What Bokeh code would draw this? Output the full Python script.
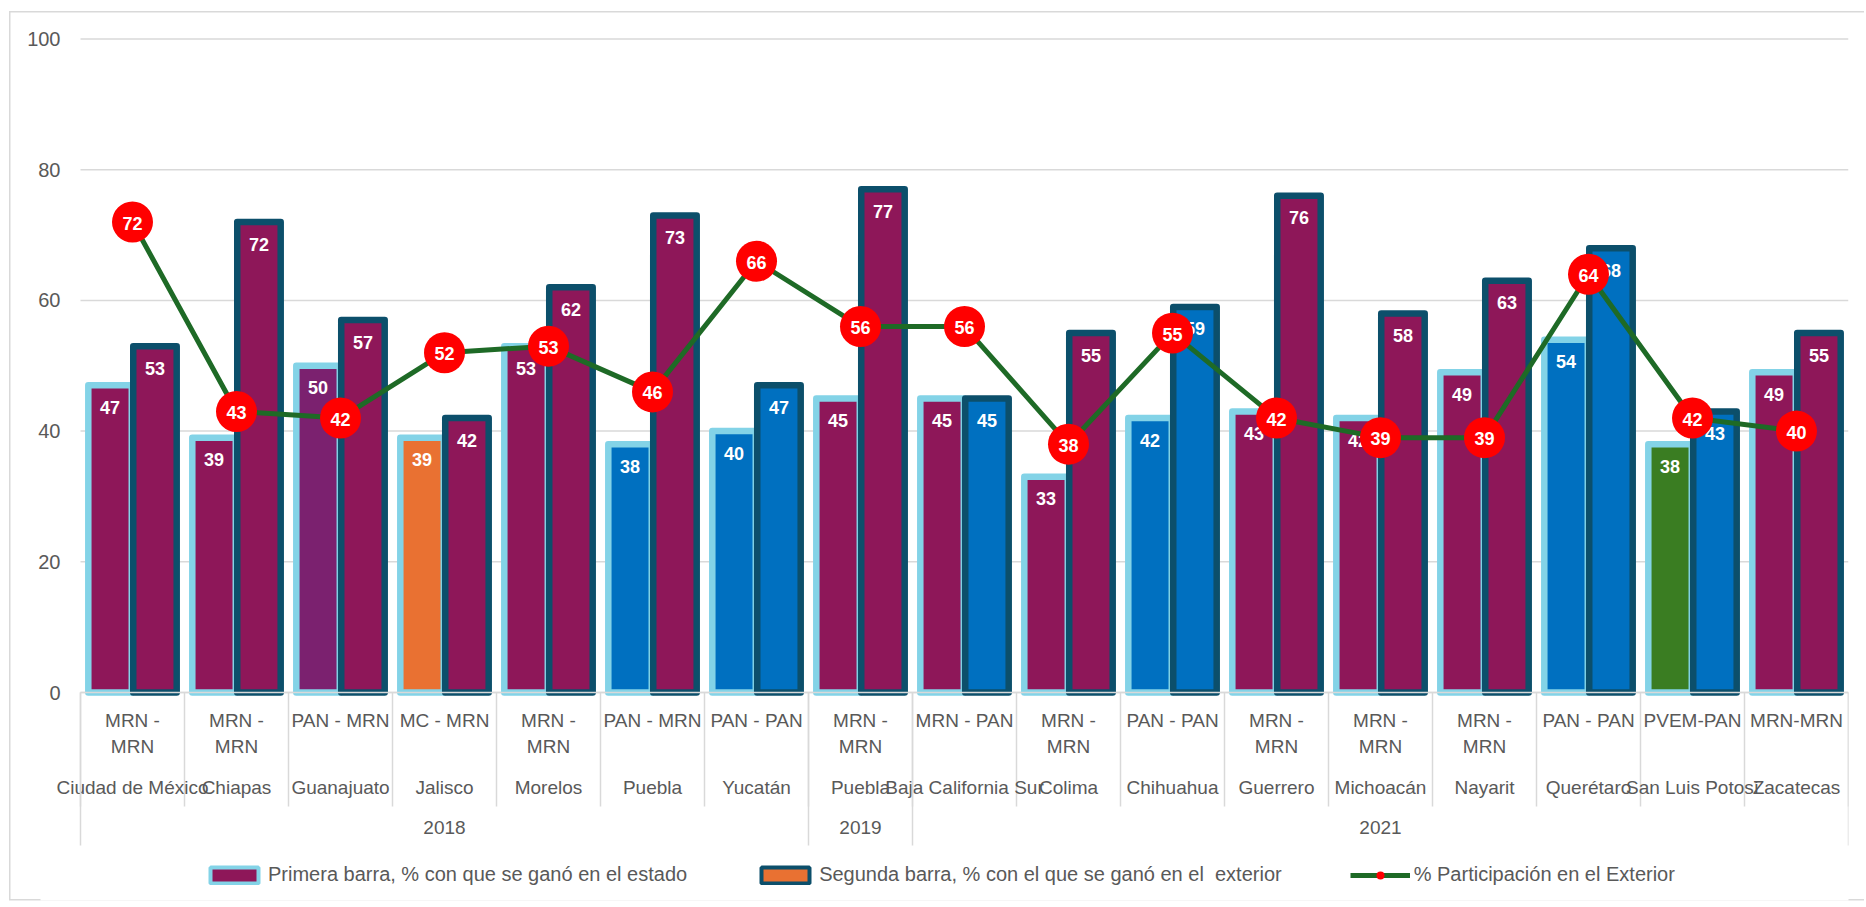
from bokeh.plotting import figure
from bokeh.models import (Range1d, FixedTicker, ColumnDataSource, Legend, LegendItem)
from bokeh.core.properties import value
from bokeh.embed import file_html
from bokeh.resources import INLINE

# ---------------- data ----------------
years = ["2018"] * 7 + ["2019"] + ["2021"] * 9
states = ["Ciudad de México", "Chiapas", "Guanajuato", "Jalisco", "Morelos", "Puebla",
          "Yucatán", "Puebla", "Baja California Sur", "Colima", "Chihuahua", "Guerrero",
          "Michoacán", "Nayarit", "Querétaro", "San Luis Potosí", "Zacatecas"]
combos = ["MRN - MRN", "MRN - MRN", "PAN - MRN", "MC - MRN", "MRN - MRN", "PAN - MRN",
          "PAN - PAN", "MRN - MRN", "MRN - PAN", "MRN - MRN", "PAN - PAN", "MRN - MRN",
          "MRN - MRN", "MRN - MRN", "PAN - PAN", "PVEM-PAN", "MRN-MRN"]
first_bar = [47, 39, 50, 39, 53, 38, 40, 45, 45, 33, 42, 43, 42, 49, 54, 38, 49]
second_bar = [53, 72, 57, 42, 62, 73, 47, 77, 45, 55, 59, 76, 58, 63, 68, 43, 55]
participation = [72, 43, 42, 52, 53, 46, 66, 56, 56, 38, 55, 42, 39, 39, 64, 42, 40]
y_ticks = [0, 20, 40, 60, 80, 100]

MRN, PAN, MC, PVEM, PURP = "#8E1759", "#0070C0", "#E97132", "#3A7D22", "#7B216F"
first_fill = [MRN, MRN, PURP, MC, MRN, PAN, PAN, MRN, MRN, MRN, PAN, MRN, MRN, MRN, PAN, PVEM, MRN]
second_fill = [MRN, MRN, MRN, MRN, MRN, MRN, PAN, MRN, PAN, MRN, PAN, MRN, MRN, MRN, PAN, PAN, MRN]

legend_labels = ["Primera barra, % con que se ganó en el estado",
                 "Segunda barra, % con el que se ganó en el  exterior",
                 "% Participación en el Exterior"]

# ---------------- styles / layout ----------------
CYAN = "#83D3E7"
DARK = "#0C4F6B"
GREEN = "#1E6A26"
RED = "#FF0000"
GRID = "#D9D9D9"
TXT = "#595959"
FONT = "Liberation Sans"

W, H = 1864, 905
TOP, LEFT, RIGHT, BOTTOM = 32, 40, 16, 5
AXIS_LEFT_PX = 80                  # canvas x where the category axis starts
ZERO_PX = 692                      # canvas y of value 0
Y_MAX = 101
n = len(states)
px_per = (ZERO_PX - TOP) / Y_MAX               # pixels per value unit
cat_px = (W - RIGHT - AXIS_LEFT_PX) / n        # pixels per category
X_MIN = -(AXIS_LEFT_PX - LEFT) / cat_px
Y_MIN = -((H - BOTTOM) - ZERO_PX) / px_per


def below(px):
    """data y for a point px pixels under the value-0 line"""
    return -px / px_per


xc = [i + 0.5 for i in range(n)]
off = 0.216
bw = 0.418

src1 = ColumnDataSource(dict(x=[c - off for c in xc], top=first_bar, fill=first_fill,
                             lbl=[str(v) for v in first_bar]))
src2 = ColumnDataSource(dict(x=[c + off for c in xc], top=second_bar, fill=second_fill,
                             lbl=[str(v) for v in second_bar]))
src3 = ColumnDataSource(dict(x=xc, y=participation, lbl=[str(v) for v in participation]))

p = figure(width=W, height=H, x_range=Range1d(X_MIN, n), y_range=Range1d(Y_MIN, Y_MAX),
           output_backend="svg", toolbar_location=None, tools="",
           x_axis_location=None, min_border_left=LEFT, min_border_right=RIGHT,
           min_border_top=TOP, min_border_bottom=BOTTOM)
p.outline_line_color = None
p.background_fill_color = "white"
p.border_fill_color = None
_ln = "linear-gradient(#D9D9D9, #D9D9D9)"
p.styles = {"background": (f"{_ln} 9px 11px / 1.5px 889px no-repeat, "
                           f"{_ln} 9px 11px / 1860px 1.5px no-repeat, "
                           f"{_ln} 9px 899px / 1860px 1.5px no-repeat, white")}

# y axis (labels sit left of the category axis start)
yax = p.yaxis[0]
yax.ticker = FixedTicker(ticks=y_ticks)
yax.axis_line_color = None
yax.major_tick_line_color = None
yax.minor_tick_line_color = None
yax.major_tick_out = 0
yax.minor_tick_out = 0
yax.major_label_standoff = -20
yax.major_label_text_font = FONT
yax.major_label_text_font_size = "20px"
yax.major_label_text_color = TXT

p.xgrid.visible = False
p.ygrid.visible = False
# horizontal gridlines over the category span only
p.segment(x0=[0] * len(y_ticks), y0=y_ticks, x1=[n] * len(y_ticks), y1=y_ticks,
          line_color=GRID, line_width=1.5)

# bars
p.vbar(x="x", top="top", bottom=0, width=bw, source=src1, fill_color="fill",
       line_color=CYAN, line_width=6.5, line_join="round")
p.vbar(x="x", top="top", bottom=0, width=bw, source=src2, fill_color="fill",
       line_color=DARK, line_width=6.5, line_join="round")
for s in (src1, src2):
    p.text(x="x", y="top", text="lbl", source=s, text_font=value(FONT),
           text_font_style="bold", text_font_size="18px", text_color="white",
           text_align="center", text_baseline="middle", y_offset=22)

# participation line
p.line(x="x", y="y", source=src3, line_color=GREEN, line_width=5)
p.scatter(x="x", y="y", source=src3, marker="circle", size=41, fill_color=RED,
          line_color=None)
p.text(x="x", y="y", text="lbl", source=src3, text_font=value(FONT),
       text_font_style="bold", text_font_size="18px", text_color="white",
       text_align="center", text_baseline="middle", y_offset=1)

# ---------------- 3-level category axis ----------------
bounds = list(range(n + 1))
p.segment(x0=bounds, y0=[0] * len(bounds), x1=bounds, y1=[below(114)] * len(bounds),
          line_color=GRID, line_width=1.5)
p.segment(x0=[0], y0=[0], x1=[n], y1=[0], line_color=GRID, line_width=1.5)

line1, line2 = [], []
for c in combos:
    if c == "MRN - MRN":
        a, b = c.split(" - ")
        line1.append(a + " -")
        line2.append(b)
    else:
        line1.append(c)
        line2.append("")
lbl_style = dict(text_font=value(FONT), text_font_size="19px", text_color=TXT,
                 text_align="center", text_baseline="middle")
p.text(x=xc, y=[below(28)] * n, text=line1, **lbl_style)
p.text(x=xc, y=[below(54)] * n, text=line2, **lbl_style)
p.text(x=xc, y=[below(95)] * n, text=states, **lbl_style)

groups = []
for i, yv in enumerate(years):
    if not groups or groups[-1][0] != yv:
        groups.append([yv, i, i + 1])
    else:
        groups[-1][2] = i + 1
g_centers = [(a + b) / 2 for _, a, b in groups]
g_bounds = sorted(set([a for _, a, b in groups] + [b for _, a, b in groups]))
p.text(x=g_centers, y=[below(135)] * len(groups), text=[g[0] for g in groups], **lbl_style)
p.segment(x0=g_bounds, y0=[0] * len(g_bounds), x1=g_bounds,
          y1=[below(153)] * len(g_bounds), line_color=GRID, line_width=1.5)

# legend (hidden renderers that carry the legend swatch styles)
d1 = p.vbar(x="x", top="top", width=bw, source=src1, fill_color=MRN,
            line_color=CYAN, line_width=4, visible=False)
d2 = p.vbar(x="x", top="top", width=bw, source=src2, fill_color=MC,
            line_color=DARK, line_width=4, visible=False)
d3 = p.line(x="x", y="y", source=src3, line_color=GREEN, line_width=5, visible=False)
d4 = p.scatter(x="x", y="y", source=src3, marker="circle", fill_color=RED,
               line_color=None, visible=False)
legend = Legend(items=[LegendItem(label=legend_labels[0], renderers=[d1]),
                       LegendItem(label=legend_labels[1], renderers=[d2]),
                       LegendItem(label=legend_labels[2], renderers=[d3, d4])],
                orientation="horizontal", location=(164, 14),
                glyph_width=60, glyph_height=20, spacing=68, label_standoff=4,
                label_text_font=FONT, label_text_font_size="20px",
                label_text_color=TXT, border_line_color=None,
                background_fill_alpha=0, margin=0, padding=4, click_policy="none")
p.add_layout(legend, "center")

open("out.html", "w").write(file_html(p, INLINE))
